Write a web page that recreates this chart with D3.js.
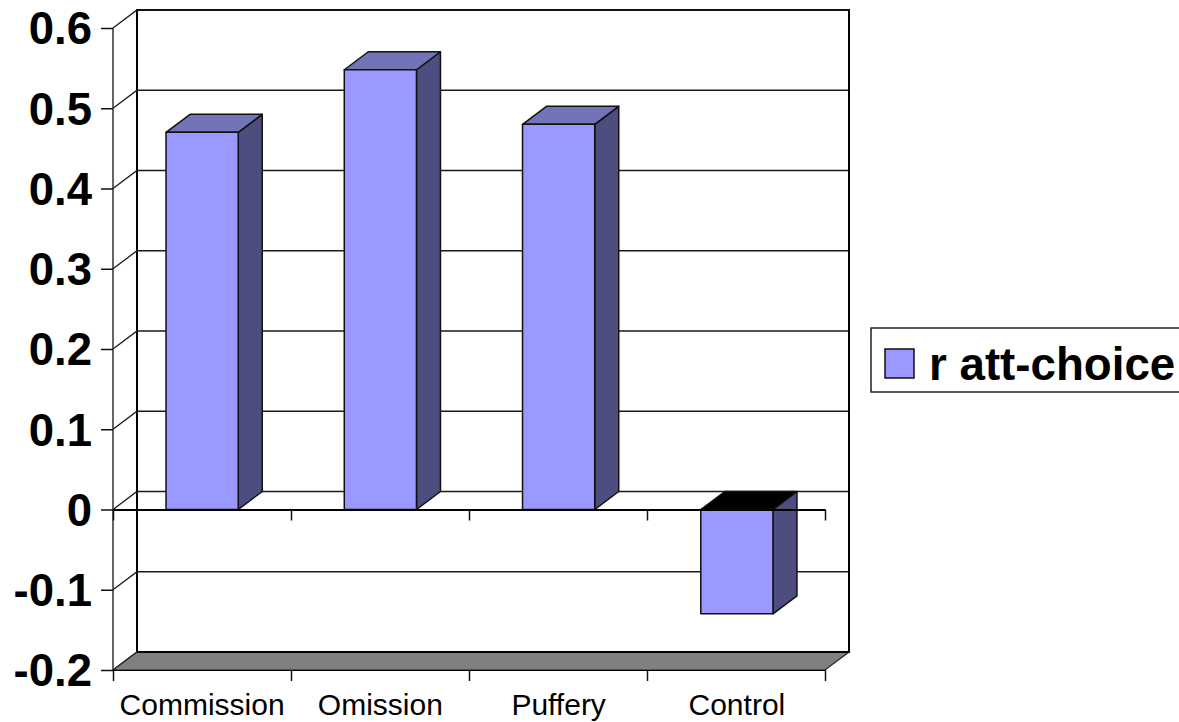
<!DOCTYPE html>
<html>
<head>
<meta charset="utf-8">
<script src="https://cdn.jsdelivr.net/npm/d3@7"></script>
<style>
  html, body { margin: 0; background: #fff; }
  svg { display: block; }
  text { font-family: "Liberation Sans", Arial, sans-serif; fill: #000; }
</style>
</head>
<body>
<div id="chart"></div>
<script>
// values
var categories = ["Commission", "Omission", "Puffery", "Control"];
var attChoice = [0.47, 0.548, 0.48, -0.13];
var yTicks = [-0.2, -0.1, 0, 0.1, 0.2, 0.3, 0.4, 0.5, 0.6];
var seriesName = "r att-choice";

var width = 1179, height = 722;
var depthX = 24, depthY = -18;   // offset of the back wall from the front plane

var svg = d3.select("#chart").append("svg")
    .attr("width", width)
    .attr("height", height);

var y = d3.scaleLinear().domain([-0.2, 0.6]).range([670, 28]);
var x = d3.scaleBand().domain(categories).range([113, 826])
    .paddingInner(0.595).paddingOuter(0.2975);
// edges of the category bands, for the tick marks
var xEdges = d3.scalePoint().domain(d3.range(categories.length + 1)).range([113, 825]);

function pts(a) { return a.map(function(p) { return p.join(","); }).join(" "); }

var x0 = 113, x1 = 825;

// back wall
svg.append("rect")
    .attr("x", x0 + depthX).attr("y", y(0.6) + depthY)
    .attr("width", x1 - x0).attr("height", y(-0.2) - y(0.6))
    .attr("fill", "#fff").attr("stroke", "#000").attr("stroke-width", 2);

// gridlines on the back wall, with the bit running along the side wall
var grid = svg.append("g").attr("fill", "none").attr("stroke", "#1a1a1a").attr("stroke-width", 1.3);
grid.selectAll("polyline")
    .data(yTicks)
    .enter()
    .append("polyline")
      .attr("points", function(d) {
        return pts([[x0, y(d)], [x0 + depthX, y(d) + depthY], [x1 + depthX, y(d) + depthY]]);
      });

// side wall front edge
svg.append("line")
    .attr("x1", x0).attr("x2", x0).attr("y1", y(0.6)).attr("y2", y(-0.2))
    .attr("stroke", "#333").attr("stroke-width", 1.5);

// floor
svg.append("polygon")
    .attr("points", pts([[x0, y(-0.2)], [x0 + depthX, y(-0.2) + depthY], [x1 + depthX, y(-0.2) + depthY], [x1, y(-0.2)]]))
    .attr("fill", "#808080").attr("stroke", "#222").attr("stroke-width", 1.2);
svg.append("line")
    .attr("x1", x0 + depthX).attr("x2", x1 + depthX)
    .attr("y1", y(-0.2) + depthY).attr("y2", y(-0.2) + depthY)
    .attr("stroke", "#000").attr("stroke-width", 2);

// bars
var bars = svg.append("g").selectAll("g")
    .data(categories.map(function(c, i) { return {name: c, value: attChoice[i]}; }))
    .enter()
    .append("g")
      .attr("stroke", "#111")
      .attr("stroke-width", 1.5)
      .attr("stroke-linejoin", "round");

bars.append("polygon")   // right side
    .attr("fill", "#4d4d80")
    .attr("points", function(d) {
      var r = x(d.name) + x.bandwidth(), t = y(Math.max(d.value, 0)), b = y(Math.min(d.value, 0));
      return pts([[r, t], [r + depthX, t + depthY], [r + depthX, b + depthY], [r, b]]);
    });

bars.append("polygon")   // top
    .attr("fill", function(d) { return d.value < 0 ? "#000" : "#7373b8"; })
    .attr("points", function(d) {
      var l = x(d.name), r = l + x.bandwidth(), t = y(Math.max(d.value, 0));
      return pts([[l, t], [l + depthX, t + depthY], [r + depthX, t + depthY], [r, t]]);
    });

bars.append("rect")      // front
    .attr("fill", "#9999ff")
    .attr("x", function(d) { return x(d.name); })
    .attr("y", function(d) { return y(Math.max(d.value, 0)); })
    .attr("width", x.bandwidth())
    .attr("height", function(d) { return Math.abs(y(d.value) - y(0)); });

// y axis ticks and labels
var yAxis = svg.append("g")
    .attr("transform", "translate(" + x0 + ",0)")
    .call(d3.axisLeft(y).tickValues(yTicks).tickSize(12).tickPadding(9)
      .tickFormat(function(d) { return d === 0 ? "0" : String(d).replace("\u2212", "-"); }));
yAxis.select(".domain").remove();
yAxis.selectAll("line").attr("stroke", "#111").attr("stroke-width", 1.5);
yAxis.selectAll("text")
    .attr("font-family", "Liberation Sans")
    .attr("font-size", 45.5)
    .attr("font-weight", "bold")
    .attr("dy", "0.35em");

// x axis at zero and the tick marks below the floor
[y(0), y(-0.2)].forEach(function(pos, i) {
  var a = svg.append("g")
      .attr("transform", "translate(0," + pos + ")")
      .call(d3.axisBottom(xEdges).tickSize(11).tickSizeOuter(0).tickFormat(""));
  a.selectAll("line").attr("stroke", "#111").attr("stroke-width", 1.5);
  a.select(".domain").attr("stroke", "#000").attr("stroke-width", i === 0 ? 2.2 : 1.2);
});

// category labels
var xAxis = svg.append("g")
    .attr("transform", "translate(0," + y(-0.2) + ")")
    .call(d3.axisBottom(x).tickSize(0).tickPadding(24));
xAxis.select(".domain").remove();
xAxis.selectAll("text")
    .attr("font-family", "Liberation Sans")
    .attr("font-size", 30);

// legend
var legend = svg.append("g");
legend.append("rect")
    .attr("x", 871).attr("y", 328).attr("width", 330).attr("height", 64)
    .attr("fill", "#fff").attr("stroke", "#222").attr("stroke-width", 1.5);
legend.append("rect")
    .attr("x", 885).attr("y", 349).attr("width", 29).attr("height", 29)
    .attr("fill", "#9999ff").attr("stroke", "#111").attr("stroke-width", 1.5);
legend.append("text")
    .attr("x", 929).attr("y", 379.5)
    .attr("font-size", 45.7).attr("font-weight", "bold")
    .text(seriesName);
</script>
</body>
</html>
